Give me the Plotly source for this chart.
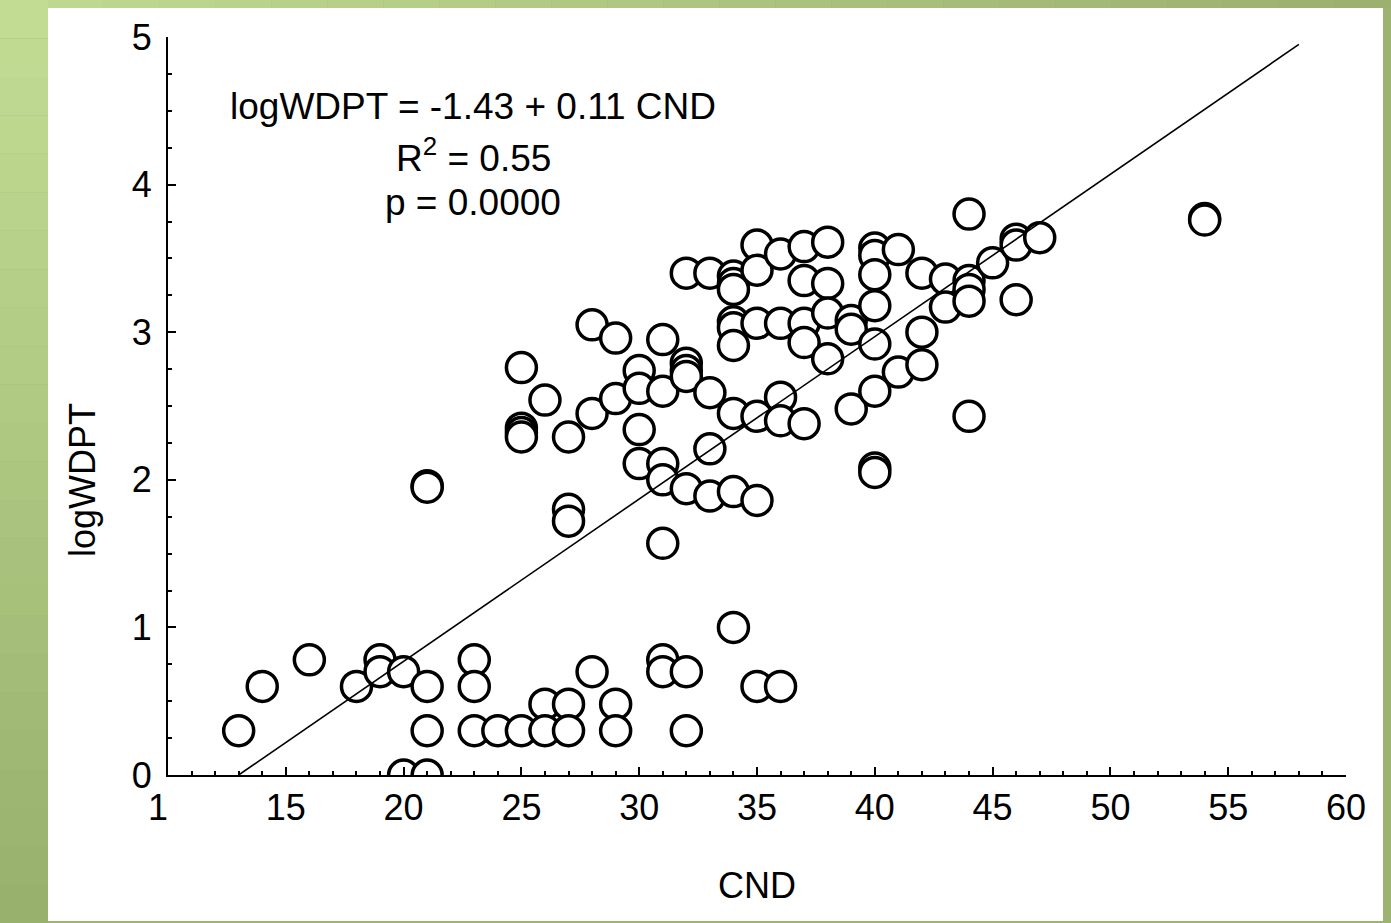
import plotly.graph_objects as go

# ---------------- data ----------------
cnd = [
    13, 14, 16, 18, 19, 19, 20, 21, 21, 20, 21, 23, 23, 23, 24, 25, 26, 26, 27, 27,
    28, 29, 29, 31, 31, 32, 32, 34, 35, 36,
    21, 21, 25, 26, 25, 25, 25, 27, 27, 27, 28, 29, 28, 29, 30, 30, 30, 30, 31, 31,
    31, 31, 32, 32, 32, 33, 33, 32, 33, 34, 35, 31,
    32, 33, 34, 34, 34, 35, 35, 36, 37, 38, 37, 38, 34, 34, 34, 35, 36, 37, 37, 38,
    39, 39, 38, 34, 35, 36, 36, 37, 39,
    40, 40, 40, 40, 40, 40, 40, 40, 41, 41, 42, 42, 42, 43, 43, 44, 44, 44, 44, 44,
    45, 46, 46, 46, 47, 54, 54,
]
log_wdpt = [
    0.30, 0.60, 0.78, 0.60, 0.78, 0.70, 0.70, 0.60, 0.30, 0.00, 0.00, 0.78, 0.60, 0.30, 0.30, 0.30, 0.48, 0.30, 0.48, 0.30,
    0.70, 0.48, 0.30, 0.78, 0.70, 0.70, 0.30, 1.00, 0.60, 0.60,
    1.96, 1.95, 2.76, 2.54, 2.35, 2.32, 2.29, 2.29, 1.80, 1.72, 3.05, 2.96, 2.45, 2.55, 2.74, 2.62, 2.34, 2.11, 2.95, 2.60,
    2.11, 2.00, 2.79, 2.74, 2.70, 2.59, 2.21, 1.94, 1.89, 1.92, 1.86, 1.57,
    3.40, 3.40, 3.38, 3.33, 3.29, 3.59, 3.42, 3.53, 3.58, 3.61, 3.35, 3.33, 3.07, 3.03, 2.91, 3.06, 3.06, 3.06, 2.93, 3.13,
    3.08, 3.02, 2.82, 2.45, 2.43, 2.56, 2.40, 2.38, 2.48,
    3.57, 3.52, 3.39, 3.18, 2.92, 2.60, 2.08, 2.05, 3.56, 2.73, 3.40, 3.00, 2.78, 3.36, 3.17, 3.80, 3.35, 3.29, 3.21, 2.43,
    3.47, 3.63, 3.59, 3.22, 3.64, 3.77, 3.76,
]

fit_intercept = -1.43
fit_slope = 0.11
fit_x = [13, 58]
fit_y = [fit_intercept + fit_slope * v for v in fit_x]

x_tickvals = [10, 15, 20, 25, 30, 35, 40, 45, 50, 55, 60]
x_ticktext = ["1\u00a0\u00a0", "15", "20", "25", "30", "35", "40", "45", "50", "55", "60"]
y_tickvals = [0, 1, 2, 3, 4, 5]

eq_lines = ["logWDPT = -1.43 + 0.11 CND", "R<sup>2</sup> = 0.55", "p = 0.0000"]

# ---------------- geometry ----------------
W, H = 1391, 923
ML, MR, MT, MB = 168, 45, 37, 148
PW, PH = W - ML - MR, H - MT - MB


def px_x(p):
    return (p - ML) / PW


def px_y(p):
    return (H - MB - p) / PH


FONT = "Liberation Sans, Arial, sans-serif"

fig = go.Figure()

fig.add_trace(go.Scatter(
    x=cnd, y=log_wdpt, mode="markers",
    marker=dict(symbol="circle", size=30, color="white",
                line=dict(color="black", width=3.5)),
    showlegend=False, hoverinfo="x+y",
))

fig.add_trace(go.Scatter(
    x=fit_x, y=fit_y, mode="lines",
    line=dict(color="black", width=1.6),
    showlegend=False, hoverinfo="skip",
))

# ---------------- background (green frame + white panel) ----------------
shapes = []
# left strip vertical gradient
top_c = (194, 220, 148)
bot_c = (152, 178, 110)
n = 24
for i in range(n):
    t = i / (n - 1)
    c = tuple(int(round(top_c[k] + (bot_c[k] - top_c[k]) * t)) for k in range(3))
    shapes.append(dict(type="rect", xref="paper", yref="paper", layer="below",
                       x0=px_x(0), x1=px_x(48), y0=px_y(H * (i + 1) / n), y1=px_y(H * i / n),
                       fillcolor="rgb(%d,%d,%d)" % c, line=dict(width=0)))
# top strip horizontal gradient
left_c = (190, 216, 144)
right_c = (156, 176, 112)
for i in range(n):
    t = i / (n - 1)
    c = tuple(int(round(left_c[k] + (right_c[k] - left_c[k]) * t)) for k in range(3))
    shapes.append(dict(type="rect", xref="paper", yref="paper", layer="below",
                       x0=px_x(48 + (W - 48) * i / n), x1=px_x(48 + (W - 48) * (i + 1) / n),
                       y0=px_y(8), y1=px_y(0),
                       fillcolor="rgb(%d,%d,%d)" % c, line=dict(width=0)))
# white panel
shapes.append(dict(type="rect", xref="paper", yref="paper", layer="below",
                   x0=px_x(48), x1=px_x(1383), y0=px_y(921), y1=px_y(8),
                   fillcolor="white", line=dict(width=0)))

annotations = []
for txt, cy in zip(eq_lines, [106, 155, 202]):
    annotations.append(dict(text=txt, xref="paper", yref="paper",
                            x=px_x(473), y=px_y(cy), xanchor="center", yanchor="middle",
                            showarrow=False, font=dict(family=FONT, size=37, color="black")))
# y axis title
annotations.append(dict(text="logWDPT", xref="paper", yref="paper",
                        x=px_x(82), y=px_y(480), xanchor="center", yanchor="middle",
                        textangle=-90, showarrow=False,
                        font=dict(family=FONT, size=36, color="black")))

fig.update_layout(
    width=W, height=H,
    margin=dict(l=ML, r=MR, t=MT, b=MB, pad=0),
    paper_bgcolor="rgb(158,178,114)",
    plot_bgcolor="white",
    font=dict(family=FONT, size=36, color="black"),
    shapes=shapes,
    annotations=annotations,
    xaxis=dict(
        range=[10, 60], tickmode="array", tickvals=x_tickvals, ticktext=x_ticktext,
        ticks="inside", ticklen=8, tickwidth=1.5, tickcolor="black",
        minor=dict(tickmode="linear", tick0=10, dtick=1, ticks="inside", ticklen=4,
                   tickwidth=1.5, tickcolor="black", showgrid=False),
        showline=True, linecolor="black", linewidth=2, showgrid=False, zeroline=False,
        ticklabelstandoff=0,
        tickfont=dict(family=FONT, size=36, color="black"),
        title=dict(text="CND", standoff=46, font=dict(family=FONT, size=36, color="black")),
    ),
    yaxis=dict(
        range=[0, 5], tickmode="array", tickvals=y_tickvals,
        ticks="inside", ticklen=8, tickwidth=1.5, tickcolor="black",
        minor=dict(tickmode="linear", tick0=0, dtick=0.25, ticks="inside", ticklen=4,
                   tickwidth=1.5, tickcolor="black", showgrid=False),
        showline=True, linecolor="black", linewidth=2, showgrid=False, zeroline=False,
        ticklabelstandoff=7,
        tickfont=dict(family=FONT, size=36, color="black"),
    ),
)

fig.write_html("out.html",
               config={"displayModeBar": False},
               post_script="document.body.style.margin='0px';document.body.style.overflow='hidden';")
